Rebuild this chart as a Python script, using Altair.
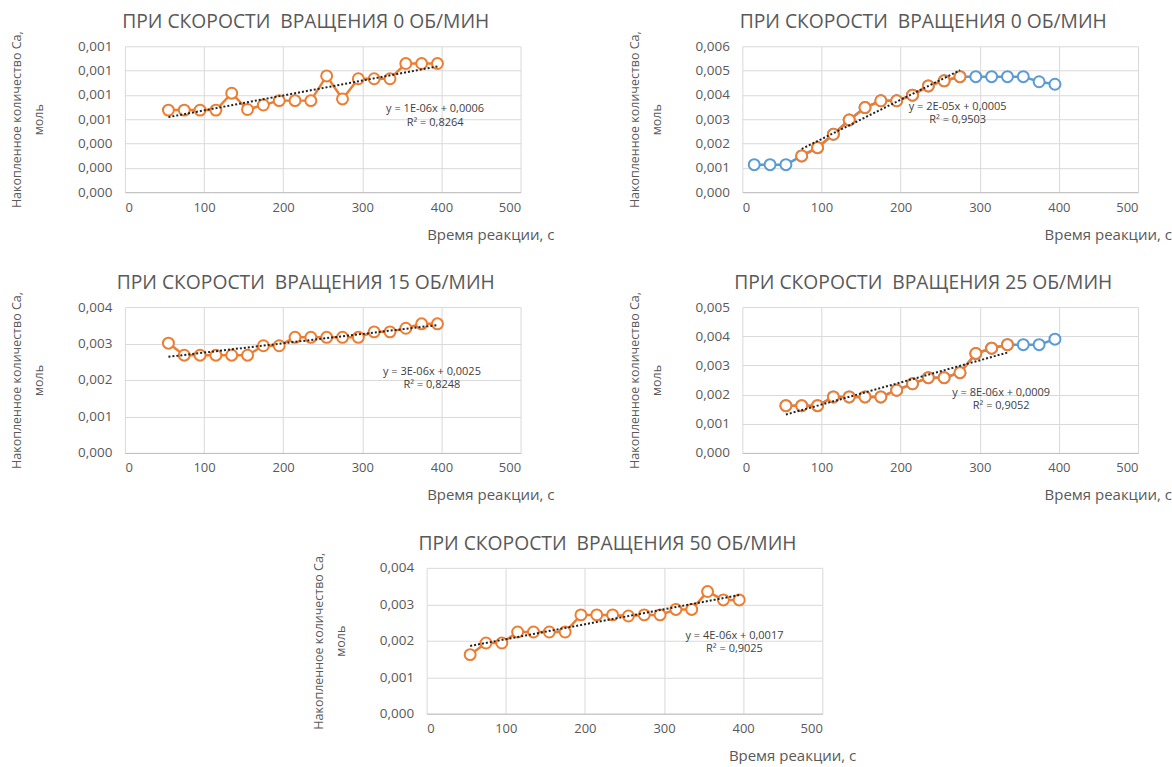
import altair as alt
import pandas as pd

# Sampling times, s
time_s = [55, 75, 95, 115, 135, 155, 175, 195, 215, 235, 255, 275, 295, 315, 335, 355, 375, 395]
time_s_long = [15, 35, 55, 75, 95, 115, 135, 155, 175, 195, 215, 235, 255, 275, 295, 315, 335, 355, 375, 395]

# Accumulated Ca, mol
ca_0_run1 = [0.000675, 0.000675, 0.000675, 0.000675, 0.000814, 0.000680, 0.000717, 0.000753, 0.000753,
             0.000753, 0.000956, 0.000767, 0.000933, 0.000933, 0.000933, 0.001058, 0.001058, 0.001058]
ca_0_run2 = [0.00113, 0.00113, 0.00113, 0.00149, 0.00183, 0.00238, 0.00297, 0.00348, 0.00376, 0.00376,
             0.00399, 0.00437, 0.00458, 0.00475, 0.00475, 0.00475, 0.00475, 0.00475, 0.00454, 0.00444]
ca_15 = [0.00301, 0.00268, 0.00268, 0.00268, 0.00268, 0.00268, 0.00294, 0.00294, 0.00317,
         0.00317, 0.00317, 0.00317, 0.00317, 0.00332, 0.00332, 0.00342, 0.00354, 0.00354]
ca_25 = [0.00162, 0.00162, 0.00162, 0.00192, 0.00192, 0.00192, 0.00192, 0.00215, 0.00237,
         0.00258, 0.00258, 0.00275, 0.00341, 0.00359, 0.00371, 0.00371, 0.00371, 0.00390]
ca_50 = [0.00162, 0.00194, 0.00194, 0.00224, 0.00224, 0.00224, 0.00224, 0.00271, 0.00271,
         0.00271, 0.00268, 0.00271, 0.00271, 0.00286, 0.00286, 0.00335, 0.00312, 0.00312]

# Time window used for the linear fit in each panel
fit_0_run1 = [55, 395]
fit_0_run2 = [75, 275]
fit_15 = [55, 395]
fit_25 = [55, 335]
fit_50 = [55, 395]

titles = [
    "ПРИ СКОРОСТИ\u00a0 ВРАЩЕНИЯ 0 ОБ/МИН",
    "ПРИ СКОРОСТИ\u00a0 ВРАЩЕНИЯ 0 ОБ/МИН",
    "ПРИ СКОРОСТИ\u00a0 ВРАЩЕНИЯ 15 ОБ/МИН",
    "ПРИ СКОРОСТИ\u00a0 ВРАЩЕНИЯ 25 ОБ/МИН",
    "ПРИ СКОРОСТИ\u00a0 ВРАЩЕНИЯ 50 ОБ/МИН",
]
equations = [
    "y = 1E-06x + 0,0006\nR² = 0,8264",
    "y = 2E-05x + 0,0005\nR² = 0,9503",
    "y = 3E-06x + 0,0025\nR² = 0,8248",
    "y = 8E-06x + 0,0009\nR² = 0,9052",
    "y = 4E-06x + 0,0017\nR² = 0,9025",
]
# Where each equation label sits (data coordinates)
equation_at = [(392, 0.00068), (272, 0.00351), (388, 0.00222), (327, 0.00207), (389, 0.00214)]
# Value axis: (max, step)
y_axes = [(0.0012, 0.0002), (0.006, 0.001), (0.004, 0.001), (0.005, 0.001), (0.004, 0.001)]
x_ticks = [0, 100, 200, 300, 400, 500]

X_TITLE = "Время реакции, с"
Y_TITLE = ["Накопленное количество Ca,", "моль"]

ORANGE = "#ED7D31"
BLUE = "#5B9BD5"
GREY_TEXT = "#595959"
FONT = "Open Sans"
W, H = 396, 146


def panel(times, values, fit, title, y_axis, eq_text, eq_pos, show_full_blue):
    ymax, ystep = y_axis
    n_ticks = int(round(ymax / ystep))
    y_ticks = [round(i * ystep, 6) for i in range(n_ticks + 1)]
    df = pd.DataFrame({"t": times, "ca": values})
    df["in_fit"] = (df["t"] >= fit[0]) & (df["t"] <= fit[1])

    x_enc = alt.X(
        "t:Q",
        scale=alt.Scale(domain=[0, 500], nice=False),
        axis=alt.Axis(
            values=x_ticks, tickCount=len(x_ticks), title=X_TITLE, grid=True, gridColor="#d9d9d9",
            domainColor="#bfbfbf", ticks=False, tickSize=0, labelPadding=9,
            labelFont=FONT, labelFontSize=13, labelColor=GREY_TEXT,
            titleFont=FONT, titleFontSize=15, titleColor=GREY_TEXT, titleFontWeight="normal",
            titleX=W - 94, titleY=47, titleAlign="left", titleBaseline="alphabetic",
        ),
    )
    y_enc = alt.Y(
        "ca:Q",
        scale=alt.Scale(domain=[0, ymax], nice=False),
        axis=alt.Axis(
            values=y_ticks, tickCount=len(y_ticks), title=Y_TITLE, grid=True, gridColor="#d9d9d9",
            domain=False, ticks=False, tickSize=0, labelPadding=13, labelOverlap=False,
            labelExpr="replace(format(datum.value, '.3f'), '.', ',')",
            labelFont=FONT, labelFontSize=13.5, labelColor=GREY_TEXT,
            titleFont=FONT, titleFontSize=12.5, titleColor=GREY_TEXT, titleFontWeight="normal",
            titleLineHeight=22, titlePadding=32,
        ),
    )

    base = alt.Chart(df).encode(x=x_enc, y=y_enc)
    fitted = base.transform_filter("datum.in_fit")
    layers = []
    if show_full_blue:
        layers.append(base.mark_line(color=BLUE, strokeWidth=2.5))
        layers.append(base.mark_point(shape="circle", filled=True, fill="white", stroke=BLUE,
                                      strokeWidth=2, size=120, opacity=1))
    layers.append(fitted.mark_line(color=ORANGE, strokeWidth=2.5))
    layers.append(fitted.mark_point(shape="circle", filled=True, fill="white", stroke=ORANGE,
                                    strokeWidth=2, size=120, opacity=1))
    trend = (
        alt.Chart(df)
        .transform_filter("datum.in_fit")
        .transform_regression("t", "ca", method="linear")
        .mark_line(color="#222222", strokeWidth=2, strokeDash=[2, 2])
        .encode(x="t:Q", y="ca:Q")
    )
    layers.append(trend)
    eq_df = pd.DataFrame({"t": [eq_pos[0]], "ca": [eq_pos[1]], "label": [eq_text]})
    layers.append(
        alt.Chart(eq_df)
        .mark_text(align="center", baseline="middle", font=FONT, fontSize=11, color="#404040",
                   lineBreak="\n", lineHeight=13.5)
        .encode(x="t:Q", y="ca:Q", text="label:N")
    )
    return alt.layer(*layers).properties(
        width=W, height=H,
        title=alt.TitleParams(
            title, anchor="middle", frame="group", dx=-17, offset=-17, baseline="alphabetic",
            font=FONT, fontSize=19.3, fontWeight="normal", color=GREY_TEXT,
        ),
    )


p1 = panel(time_s, ca_0_run1, fit_0_run1, titles[0], y_axes[0], equations[0], equation_at[0], False)
p2 = panel(time_s_long, ca_0_run2, fit_0_run2, titles[1], y_axes[1], equations[1], equation_at[1], True)
p3 = panel(time_s, ca_15, fit_15, titles[2], y_axes[2], equations[2], equation_at[2], False)
p4 = panel(time_s, ca_25, fit_25, titles[3], y_axes[3], equations[3], equation_at[3], True)
p5 = panel(time_s, ca_50, fit_50, titles[4], y_axes[4], equations[4], equation_at[4], False)

spacer = (
    alt.Chart(pd.DataFrame({"a": [0]}))
    .mark_point(opacity=0)
    .encode(x=alt.value(0), y=alt.value(0))
    .properties(width=80, height=H)
)

GAP = 222
row1 = alt.hconcat(p1, p2, spacing=GAP, bounds="flush")
row2 = alt.hconcat(p3, p4, spacing=GAP, bounds="flush")
row3 = alt.hconcat(spacer, p5, spacing=GAP, bounds="flush")

chart = (
    alt.vconcat(row1, row2, row3, spacing=32)
    .properties(padding={"left": 10, "top": 13, "right": 0, "bottom": 0}, background="white")
    .configure_view(stroke=None)
)

chart.save("out.html", embed_options={"renderer": "svg", "actions": False})
